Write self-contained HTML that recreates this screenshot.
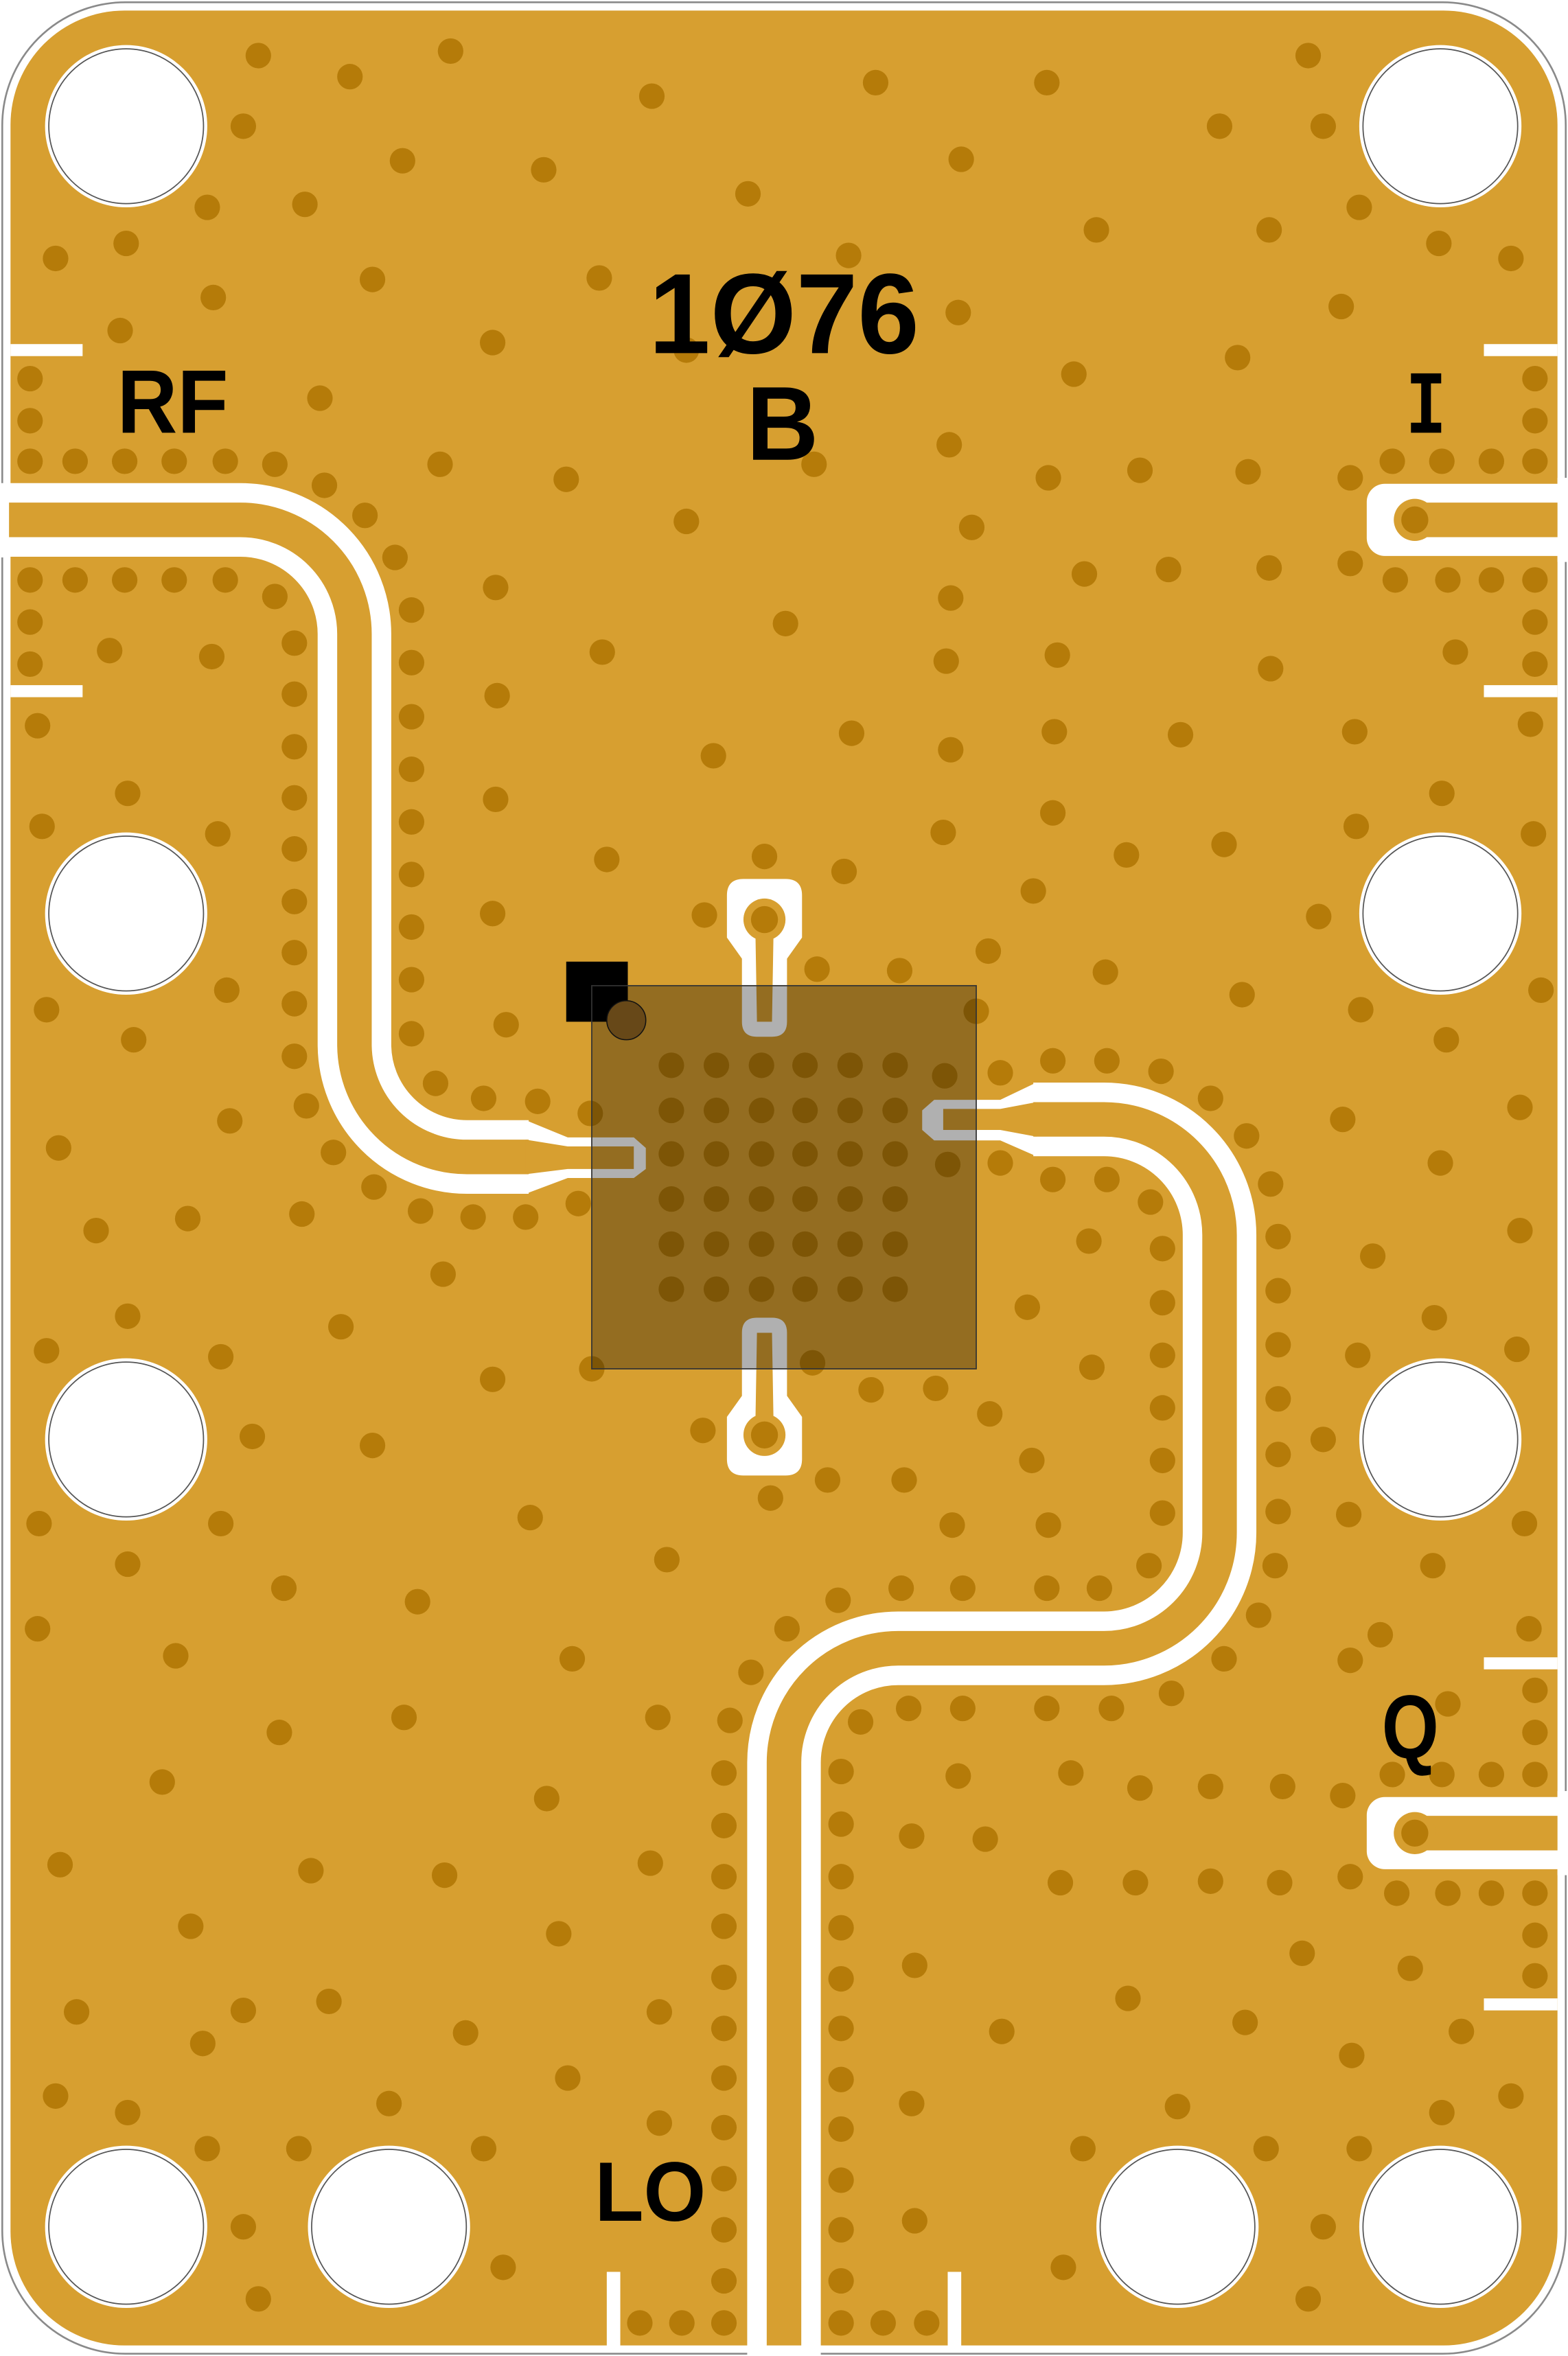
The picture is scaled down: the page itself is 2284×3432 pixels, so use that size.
<!DOCTYPE html>
<html><head><meta charset="utf-8"><style>
html,body{margin:0;padding:0;background:#fff}
svg{display:block}
text{font-family:"Liberation Sans",sans-serif;font-weight:bold;fill:#000}
</style></head><body>
<svg width="2284" height="3432" viewBox="0 0 1044 1568" preserveAspectRatio="none" xmlns="http://www.w3.org/2000/svg">
<rect x="0" y="0" width="1044" height="1568" fill="#fff"/>
<rect x="1.5" y="1.5" width="1041" height="1565" rx="82" fill="#fff" stroke="#8a8a8a" stroke-width="1.2"/>
<rect x="7" y="7" width="1030" height="1554" rx="76" fill="#D79F30"/>

<g fill="#B57B09">
<circle cx="172" cy="37" r="8.5"/><circle cx="233" cy="51" r="8.5"/><circle cx="300" cy="34" r="8.5"/><circle cx="162" cy="84" r="8.5"/><circle cx="138" cy="138" r="8.5"/><circle cx="203" cy="136" r="8.5"/><circle cx="268" cy="107" r="8.5"/><circle cx="362" cy="113" r="8.5"/><circle cx="434" cy="64" r="8.5"/><circle cx="583" cy="55" r="8.5"/><circle cx="697" cy="55" r="8.5"/><circle cx="640" cy="106" r="8.5"/><circle cx="498" cy="129" r="8.5"/><circle cx="871" cy="37" r="8.5"/><circle cx="812" cy="84" r="8.5"/><circle cx="881" cy="84" r="8.5"/><circle cx="905" cy="138" r="8.5"/><circle cx="845" cy="153" r="8.5"/><circle cx="730" cy="153" r="8.5"/><circle cx="565" cy="170" r="8.5"/><circle cx="958" cy="162" r="8.5"/><circle cx="1006" cy="172" r="8.5"/><circle cx="893" cy="204" r="8.5"/><circle cx="824" cy="238" r="8.5"/><circle cx="715" cy="249" r="8.5"/><circle cx="638" cy="208" r="8.5"/><circle cx="399" cy="185" r="8.5"/><circle cx="457" cy="233" r="8.5"/><circle cx="248" cy="186" r="8.5"/><circle cx="142" cy="198" r="8.5"/><circle cx="84" cy="162" r="8.5"/><circle cx="37" cy="172" r="8.5"/><circle cx="80" cy="220" r="8.5"/><circle cx="328" cy="228" r="8.5"/><circle cx="213" cy="265" r="8.5"/><circle cx="20" cy="252" r="8.5"/><circle cx="20" cy="280" r="8.5"/><circle cx="20" cy="307" r="8.5"/><circle cx="50" cy="307" r="8.5"/><circle cx="83" cy="307" r="8.5"/><circle cx="116" cy="307" r="8.5"/><circle cx="150" cy="307" r="8.5"/><circle cx="183" cy="309" r="8.5"/><circle cx="216" cy="323" r="8.5"/><circle cx="243" cy="343" r="8.5"/><circle cx="263" cy="371" r="8.5"/><circle cx="274" cy="406" r="8.5"/><circle cx="274" cy="441" r="8.5"/><circle cx="274" cy="477" r="8.5"/><circle cx="274" cy="512" r="8.5"/><circle cx="274" cy="547" r="8.5"/><circle cx="274" cy="582" r="8.5"/><circle cx="274" cy="617" r="8.5"/><circle cx="274" cy="652" r="8.5"/><circle cx="274" cy="688" r="8.5"/><circle cx="290" cy="721" r="8.5"/><circle cx="322" cy="731" r="8.5"/><circle cx="358" cy="733" r="8.5"/><circle cx="393" cy="741" r="8.5"/><circle cx="293" cy="309" r="8.5"/><circle cx="377" cy="319" r="8.5"/><circle cx="542" cy="309" r="8.5"/><circle cx="632" cy="296" r="8.5"/><circle cx="698" cy="318" r="8.5"/><circle cx="759" cy="313" r="8.5"/><circle cx="831" cy="314" r="8.5"/><circle cx="899" cy="318" r="8.5"/><circle cx="927" cy="307" r="8.5"/><circle cx="960" cy="307" r="8.5"/><circle cx="993" cy="307" r="8.5"/><circle cx="1022" cy="307" r="8.5"/><circle cx="1022" cy="280" r="8.5"/><circle cx="1022" cy="252" r="8.5"/><circle cx="20" cy="386" r="8.5"/><circle cx="50" cy="386" r="8.5"/><circle cx="83" cy="386" r="8.5"/><circle cx="116" cy="386" r="8.5"/><circle cx="150" cy="386" r="8.5"/><circle cx="183" cy="397" r="8.5"/><circle cx="196" cy="428" r="8.5"/><circle cx="196" cy="462" r="8.5"/><circle cx="196" cy="497" r="8.5"/><circle cx="196" cy="531" r="8.5"/><circle cx="196" cy="565" r="8.5"/><circle cx="196" cy="600" r="8.5"/><circle cx="196" cy="634" r="8.5"/><circle cx="196" cy="668" r="8.5"/><circle cx="196" cy="703" r="8.5"/><circle cx="204" cy="736" r="8.5"/><circle cx="222" cy="767" r="8.5"/><circle cx="249" cy="790" r="8.5"/><circle cx="280" cy="806" r="8.5"/><circle cx="315" cy="810" r="8.5"/><circle cx="350" cy="810" r="8.5"/><circle cx="385" cy="801" r="8.5"/><circle cx="20" cy="414" r="8.5"/><circle cx="20" cy="442" r="8.5"/><circle cx="73" cy="433" r="8.5"/><circle cx="141" cy="437" r="8.5"/><circle cx="25" cy="483" r="8.5"/><circle cx="85" cy="528" r="8.5"/><circle cx="28" cy="550" r="8.5"/><circle cx="145" cy="555" r="8.5"/><circle cx="151" cy="659" r="8.5"/><circle cx="31" cy="672" r="8.5"/><circle cx="89" cy="692" r="8.5"/><circle cx="153" cy="746" r="8.5"/><circle cx="39" cy="764" r="8.5"/><circle cx="125" cy="811" r="8.5"/><circle cx="64" cy="819" r="8.5"/><circle cx="201" cy="808" r="8.5"/><circle cx="295" cy="848" r="8.5"/><circle cx="227" cy="883" r="8.5"/><circle cx="85" cy="876" r="8.5"/><circle cx="31" cy="899" r="8.5"/><circle cx="147" cy="903" r="8.5"/><circle cx="168" cy="956" r="8.5"/><circle cx="248" cy="962" r="8.5"/><circle cx="328" cy="918" r="8.5"/><circle cx="26" cy="1014" r="8.5"/><circle cx="147" cy="1014" r="8.5"/><circle cx="85" cy="1041" r="8.5"/><circle cx="189" cy="1057" r="8.5"/><circle cx="278" cy="1066" r="8.5"/><circle cx="353" cy="1010" r="8.5"/><circle cx="444" cy="1038" r="8.5"/><circle cx="25" cy="1084" r="8.5"/><circle cx="117" cy="1102" r="8.5"/><circle cx="381" cy="1104" r="8.5"/><circle cx="186" cy="1153" r="8.5"/><circle cx="269" cy="1143" r="8.5"/><circle cx="108" cy="1186" r="8.5"/><circle cx="364" cy="1197" r="8.5"/><circle cx="40" cy="1241" r="8.5"/><circle cx="207" cy="1245" r="8.5"/><circle cx="296" cy="1248" r="8.5"/><circle cx="127" cy="1282" r="8.5"/><circle cx="372" cy="1287" r="8.5"/><circle cx="51" cy="1339" r="8.5"/><circle cx="162" cy="1338" r="8.5"/><circle cx="219" cy="1332" r="8.5"/><circle cx="135" cy="1360" r="8.5"/><circle cx="310" cy="1353" r="8.5"/><circle cx="378" cy="1383" r="8.5"/><circle cx="37" cy="1395" r="8.5"/><circle cx="85" cy="1406" r="8.5"/><circle cx="259" cy="1400" r="8.5"/><circle cx="138" cy="1430" r="8.5"/><circle cx="199" cy="1430" r="8.5"/><circle cx="322" cy="1430" r="8.5"/><circle cx="162" cy="1482" r="8.5"/><circle cx="335" cy="1509" r="8.5"/><circle cx="172" cy="1530" r="8.5"/><circle cx="439" cy="1413" r="8.5"/><circle cx="433" cy="1240" r="8.5"/><circle cx="439" cy="1339" r="8.5"/><circle cx="438" cy="1143" r="8.5"/><circle cx="486" cy="1145" r="8.5"/><circle cx="500" cy="1113" r="8.5"/><circle cx="524" cy="1084" r="8.5"/><circle cx="558" cy="1065" r="8.5"/><circle cx="600" cy="1057" r="8.5"/><circle cx="641" cy="1057" r="8.5"/><circle cx="697" cy="1057" r="8.5"/><circle cx="732" cy="1057" r="8.5"/><circle cx="765" cy="1042" r="8.5"/><circle cx="774" cy="1007" r="8.5"/><circle cx="774" cy="972" r="8.5"/><circle cx="774" cy="937" r="8.5"/><circle cx="774" cy="902" r="8.5"/><circle cx="774" cy="867" r="8.5"/><circle cx="774" cy="831" r="8.5"/><circle cx="766" cy="800" r="8.5"/><circle cx="737" cy="785" r="8.5"/><circle cx="701" cy="785" r="8.5"/><circle cx="666" cy="774" r="8.5"/><circle cx="631" cy="775" r="8.5"/><circle cx="629" cy="716" r="8.5"/><circle cx="666" cy="714" r="8.5"/><circle cx="701" cy="706" r="8.5"/><circle cx="737" cy="706" r="8.5"/><circle cx="773" cy="713" r="8.5"/><circle cx="806" cy="731" r="8.5"/><circle cx="830" cy="756" r="8.5"/><circle cx="846" cy="788" r="8.5"/><circle cx="851" cy="823" r="8.5"/><circle cx="851" cy="859" r="8.5"/><circle cx="851" cy="895" r="8.5"/><circle cx="851" cy="931" r="8.5"/><circle cx="851" cy="968" r="8.5"/><circle cx="851" cy="1006" r="8.5"/><circle cx="849" cy="1042" r="8.5"/><circle cx="838" cy="1075" r="8.5"/><circle cx="815" cy="1104" r="8.5"/><circle cx="780" cy="1127" r="8.5"/><circle cx="740" cy="1137" r="8.5"/><circle cx="697" cy="1137" r="8.5"/><circle cx="641" cy="1137" r="8.5"/><circle cx="605" cy="1137" r="8.5"/><circle cx="573" cy="1146" r="8.5"/><circle cx="560" cy="1179" r="8.5"/><circle cx="560" cy="1214" r="8.5"/><circle cx="560" cy="1249" r="8.5"/><circle cx="560" cy="1283" r="8.5"/><circle cx="560" cy="1317" r="8.5"/><circle cx="560" cy="1350" r="8.5"/><circle cx="560" cy="1384" r="8.5"/><circle cx="560" cy="1417" r="8.5"/><circle cx="560" cy="1451" r="8.5"/><circle cx="560" cy="1484" r="8.5"/><circle cx="560" cy="1518" r="8.5"/><circle cx="560" cy="1546" r="8.5"/><circle cx="588" cy="1546" r="8.5"/><circle cx="617" cy="1546" r="8.5"/><circle cx="482" cy="1180" r="8.5"/><circle cx="482" cy="1215" r="8.5"/><circle cx="482" cy="1249" r="8.5"/><circle cx="482" cy="1282" r="8.5"/><circle cx="482" cy="1316" r="8.5"/><circle cx="482" cy="1350" r="8.5"/><circle cx="482" cy="1383" r="8.5"/><circle cx="482" cy="1416" r="8.5"/><circle cx="482" cy="1450" r="8.5"/><circle cx="482" cy="1484" r="8.5"/><circle cx="482" cy="1518" r="8.5"/><circle cx="482" cy="1546" r="8.5"/><circle cx="454" cy="1546" r="8.5"/><circle cx="426" cy="1546" r="8.5"/>
<circle cx="633" cy="398" r="8.5"/><circle cx="647" cy="351" r="8.5"/><circle cx="523" cy="415" r="8.5"/><circle cx="401" cy="434" r="8.5"/><circle cx="457" cy="347" r="8.5"/><circle cx="630" cy="440" r="8.5"/><circle cx="704" cy="436" r="8.5"/><circle cx="722" cy="382" r="8.5"/><circle cx="778" cy="379" r="8.5"/><circle cx="845" cy="378" r="8.5"/><circle cx="899" cy="375" r="8.5"/><circle cx="929" cy="386" r="8.5"/><circle cx="964" cy="386" r="8.5"/><circle cx="993" cy="386" r="8.5"/><circle cx="1022" cy="386" r="8.5"/><circle cx="1022" cy="414" r="8.5"/><circle cx="1022" cy="442" r="8.5"/><circle cx="969" cy="434" r="8.5"/><circle cx="846" cy="445" r="8.5"/><circle cx="702" cy="487" r="8.5"/><circle cx="786" cy="489" r="8.5"/><circle cx="902" cy="487" r="8.5"/><circle cx="1019" cy="482" r="8.5"/><circle cx="960" cy="528" r="8.5"/><circle cx="1021" cy="555" r="8.5"/><circle cx="903" cy="550" r="8.5"/><circle cx="701" cy="541" r="8.5"/><circle cx="750" cy="569" r="8.5"/><circle cx="815" cy="562" r="8.5"/><circle cx="878" cy="610" r="8.5"/><circle cx="688" cy="593" r="8.5"/><circle cx="628" cy="554" r="8.5"/><circle cx="633" cy="499" r="8.5"/><circle cx="567" cy="488" r="8.5"/><circle cx="475" cy="503" r="8.5"/><circle cx="404" cy="572" r="8.5"/><circle cx="330" cy="532" r="8.5"/><circle cx="331" cy="463" r="8.5"/><circle cx="330" cy="391" r="8.5"/><circle cx="328" cy="608" r="8.5"/><circle cx="337" cy="682" r="8.5"/><circle cx="562" cy="580" r="8.5"/><circle cx="469" cy="609" r="8.5"/><circle cx="509" cy="570" r="8.5"/><circle cx="544" cy="645" r="8.5"/><circle cx="599" cy="646" r="8.5"/><circle cx="658" cy="633" r="8.5"/><circle cx="736" cy="647" r="8.5"/><circle cx="827" cy="662" r="8.5"/><circle cx="906" cy="672" r="8.5"/><circle cx="963" cy="692" r="8.5"/><circle cx="1026" cy="659" r="8.5"/><circle cx="894" cy="745" r="8.5"/><circle cx="1012" cy="737" r="8.5"/><circle cx="959" cy="774" r="8.5"/><circle cx="1012" cy="819" r="8.5"/><circle cx="914" cy="836" r="8.5"/><circle cx="684" cy="870" r="8.5"/><circle cx="725" cy="826" r="8.5"/><circle cx="727" cy="910" r="8.5"/><circle cx="955" cy="877" r="8.5"/><circle cx="1010" cy="898" r="8.5"/><circle cx="904" cy="902" r="8.5"/><circle cx="881" cy="958" r="8.5"/><circle cx="954" cy="1042" r="8.5"/><circle cx="1015" cy="1014" r="8.5"/><circle cx="898" cy="1008" r="8.5"/><circle cx="919" cy="1088" r="8.5"/><circle cx="1018" cy="1084" r="8.5"/><circle cx="899" cy="1105" r="8.5"/><circle cx="1022" cy="1125" r="8.5"/><circle cx="1022" cy="1153" r="8.5"/><circle cx="993" cy="1181" r="8.5"/><circle cx="960" cy="1181" r="8.5"/><circle cx="927" cy="1181" r="8.5"/><circle cx="1022" cy="1181" r="8.5"/><circle cx="964" cy="1134" r="8.5"/><circle cx="894" cy="1195" r="8.5"/><circle cx="854" cy="1189" r="8.5"/><circle cx="806" cy="1189" r="8.5"/><circle cx="759" cy="1190" r="8.5"/><circle cx="713" cy="1180" r="8.5"/><circle cx="638" cy="1182" r="8.5"/><circle cx="607" cy="1222" r="8.5"/><circle cx="656" cy="1224" r="8.5"/><circle cx="706" cy="1253" r="8.5"/><circle cx="756" cy="1253" r="8.5"/><circle cx="806" cy="1252" r="8.5"/><circle cx="852" cy="1253" r="8.5"/><circle cx="899" cy="1249" r="8.5"/><circle cx="930" cy="1260" r="8.5"/><circle cx="964" cy="1260" r="8.5"/><circle cx="993" cy="1260" r="8.5"/><circle cx="1022" cy="1260" r="8.5"/><circle cx="1022" cy="1288" r="8.5"/><circle cx="1022" cy="1315" r="8.5"/><circle cx="939" cy="1310" r="8.5"/><circle cx="867" cy="1300" r="8.5"/><circle cx="751" cy="1330" r="8.5"/><circle cx="829" cy="1346" r="8.5"/><circle cx="900" cy="1368" r="8.5"/><circle cx="973" cy="1352" r="8.5"/><circle cx="667" cy="1352" r="8.5"/><circle cx="609" cy="1308" r="8.5"/><circle cx="784" cy="1402" r="8.5"/><circle cx="1006" cy="1395" r="8.5"/><circle cx="960" cy="1406" r="8.5"/><circle cx="843" cy="1430" r="8.5"/><circle cx="905" cy="1430" r="8.5"/><circle cx="721" cy="1430" r="8.5"/><circle cx="607" cy="1400" r="8.5"/><circle cx="609" cy="1478" r="8.5"/><circle cx="708" cy="1509" r="8.5"/><circle cx="881" cy="1482" r="8.5"/><circle cx="871" cy="1530" r="8.5"/><circle cx="541" cy="907" r="8.5"/><circle cx="468" cy="952" r="8.5"/><circle cx="513" cy="997" r="8.5"/><circle cx="551" cy="985" r="8.5"/><circle cx="602" cy="985" r="8.5"/><circle cx="634" cy="1015" r="8.5"/><circle cx="687" cy="972" r="8.5"/><circle cx="659" cy="941" r="8.5"/><circle cx="623" cy="924" r="8.5"/><circle cx="698" cy="1015" r="8.5"/><circle cx="580" cy="925" r="8.5"/><circle cx="394" cy="911" r="8.5"/><circle cx="650" cy="673" r="8.5"/>
<circle cx="447" cy="709" r="8.5"/><circle cx="477" cy="709" r="8.5"/><circle cx="507" cy="709" r="8.5"/><circle cx="536" cy="709" r="8.5"/><circle cx="566" cy="709" r="8.5"/><circle cx="596" cy="709" r="8.5"/>
<circle cx="447" cy="739" r="8.5"/><circle cx="477" cy="739" r="8.5"/><circle cx="507" cy="739" r="8.5"/><circle cx="536" cy="739" r="8.5"/><circle cx="566" cy="739" r="8.5"/><circle cx="596" cy="739" r="8.5"/>
<circle cx="447" cy="768" r="8.5"/><circle cx="477" cy="768" r="8.5"/><circle cx="507" cy="768" r="8.5"/><circle cx="536" cy="768" r="8.5"/><circle cx="566" cy="768" r="8.5"/><circle cx="596" cy="768" r="8.5"/>
<circle cx="447" cy="798" r="8.5"/><circle cx="477" cy="798" r="8.5"/><circle cx="507" cy="798" r="8.5"/><circle cx="536" cy="798" r="8.5"/><circle cx="566" cy="798" r="8.5"/><circle cx="596" cy="798" r="8.5"/>
<circle cx="447" cy="828" r="8.5"/><circle cx="477" cy="828" r="8.5"/><circle cx="507" cy="828" r="8.5"/><circle cx="536" cy="828" r="8.5"/><circle cx="566" cy="828" r="8.5"/><circle cx="596" cy="828" r="8.5"/>
<circle cx="447" cy="858" r="8.5"/><circle cx="477" cy="858" r="8.5"/><circle cx="507" cy="858" r="8.5"/><circle cx="536" cy="858" r="8.5"/><circle cx="566" cy="858" r="8.5"/><circle cx="596" cy="858" r="8.5"/>
<circle cx="420" cy="676" r="8.5"/>
</g>

<g fill="#fff">
<rect x="7" y="229" width="48" height="8"/><rect x="7" y="456" width="48" height="8"/>
<rect x="988" y="229" width="49" height="8"/><rect x="988" y="456" width="49" height="8"/>
<rect x="988" y="1103" width="49" height="8"/><rect x="988" y="1330" width="49" height="8"/>
<rect x="404" y="1512" width="9" height="50"/><rect x="631" y="1512" width="9" height="50"/>
</g>

<path d="M0,346 H160 A76,76 0 0 1 236,422 V695 A75,75 0 0 0 311,770 H352" fill="none" stroke="#fff" stroke-width="49"/>
<polygon points="350,745.5 378,757 422,757 430,764 430,778 422,784 378,784 350,794.5" fill="#fff"/>
<path d="M0,346 H160 A76,76 0 0 1 236,422 V695 A75,75 0 0 0 311,770 H352" fill="none" stroke="#D79F30" stroke-width="23"/>
<polygon points="350,758.5 378,763 422,763 422,778 378,778 350,781.5" fill="#D79F30"/>
<rect x="0" y="322" width="6" height="49" fill="#fff"/>

<path d="M688,745 H735 A77,77 0 0 1 812,822 V1020 A77,77 0 0 1 735,1097 H598 A76,76 0 0 0 522,1173 V1568" fill="none" stroke="#fff" stroke-width="49"/>
<polygon points="690,720.5 666,732 622,732 614,739 614,752 622,759 666,759 690,769.5" fill="#fff"/>
<path d="M688,745 H735 A77,77 0 0 1 812,822 V1020 A77,77 0 0 1 735,1097 H598 A76,76 0 0 0 522,1173 V1561" fill="none" stroke="#D79F30" stroke-width="23"/>
<polygon points="690,733.5 666,738 628,738 628,752 666,752 690,756.5" fill="#D79F30"/>

<rect x="910" y="322" width="140" height="48" rx="12" fill="#fff"/>
<rect x="936" y="334.5" width="104" height="23" fill="#D79F30"/>
<circle cx="942" cy="346" r="14" fill="#D79F30"/><circle cx="942" cy="346" r="9" fill="#B57B09"/>
<rect x="1037" y="318" width="7" height="56" fill="#fff"/>
<rect x="910" y="1196" width="140" height="48" rx="12" fill="#fff"/>
<rect x="936" y="1208.5" width="104" height="23" fill="#D79F30"/>
<circle cx="942" cy="1220" r="14" fill="#D79F30"/><circle cx="942" cy="1220" r="9" fill="#B57B09"/>
<rect x="1037" y="1192" width="7" height="56" fill="#fff"/>

<g>
<path d="M484,596 Q484,585 495,585 H523 Q534,585 534,596 V624 L524,638 V680 Q524,690 514,690 H504 Q494,690 494,680 V638 L484,624 Z" fill="#fff"/>
<path d="M503,622 L504,680 H514 L515,622 Z" fill="#D79F30"/>
<circle cx="509" cy="612" r="14" fill="#D79F30"/>
<circle cx="509" cy="612" r="9" fill="#B57B09"/>
</g>
<g transform="translate(0,1567) scale(1,-1)">
<path d="M484,596 Q484,585 495,585 H523 Q534,585 534,596 V624 L524,638 V680 Q524,690 514,690 H504 Q494,690 494,680 V638 L484,624 Z" fill="#fff"/>
<path d="M503,622 L504,680 H514 L515,622 Z" fill="#D79F30"/>
<circle cx="509" cy="612" r="14" fill="#D79F30"/>
<circle cx="509" cy="612" r="9" fill="#B57B09"/>
</g>

<rect x="377" y="640" width="41" height="40" fill="#000"/>
<rect x="394" y="656" width="256" height="255" fill="#000" fill-opacity="0.31" stroke="#333" stroke-width="0.8"/>
<ellipse cx="417" cy="679" rx="13" ry="13" fill="#674818" stroke="#111" stroke-width="0.7"/>

<g fill="#fff">
<circle cx="84" cy="84" r="54"/><circle cx="959" cy="84" r="54"/>
<circle cx="84" cy="608" r="54"/><circle cx="959" cy="608" r="54"/>
<circle cx="84" cy="958" r="54"/><circle cx="959" cy="958" r="54"/>
<circle cx="84" cy="1482" r="54"/><circle cx="259" cy="1482" r="54"/>
<circle cx="784" cy="1482" r="54"/><circle cx="959" cy="1482" r="54"/>
</g>
<g fill="none" stroke="#555" stroke-width="0.8">
<circle cx="84" cy="84" r="51.5"/><circle cx="959" cy="84" r="51.5"/>
<circle cx="84" cy="608" r="51.5"/><circle cx="959" cy="608" r="51.5"/>
<circle cx="84" cy="958" r="51.5"/><circle cx="959" cy="958" r="51.5"/>
<circle cx="84" cy="1482" r="51.5"/><circle cx="259" cy="1482" r="51.5"/>
<circle cx="784" cy="1482" r="51.5"/><circle cx="959" cy="1482" r="51.5"/>
</g>

<text x="432" y="235" font-size="76" textLength="180" lengthAdjust="spacingAndGlyphs">1Ø76</text>
<text x="497" y="306" font-size="70" textLength="48" lengthAdjust="spacingAndGlyphs">B</text>
<text x="78" y="288" font-size="60" textLength="74" lengthAdjust="spacingAndGlyphs">RF</text>
<text x="936" y="288" font-size="60" textLength="27" lengthAdjust="spacingAndGlyphs" style="font-family:'Liberation Mono',monospace">I</text>
<text x="920" y="1170" font-size="60" textLength="38" lengthAdjust="spacingAndGlyphs">Q</text>
<text x="396" y="1478" font-size="56" textLength="74" lengthAdjust="spacingAndGlyphs">LO</text>
</svg>
</body></html>
